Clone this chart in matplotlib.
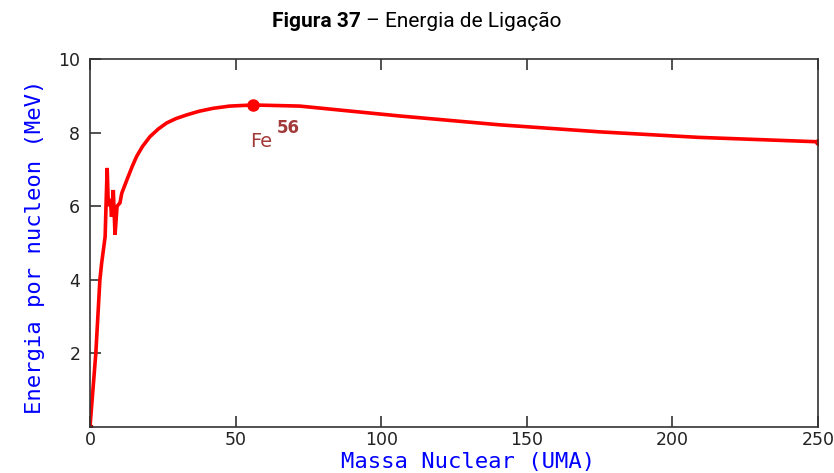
import numpy as np
import matplotlib.pyplot as plt

# binding energy per nucleon vs mass number
massa = [0, 1, 2, 3.4, 4.0, 5.2, 5.5, 5.9, 6.3, 7.0, 7.4, 8.0, 8.6, 9.3, 10.3,
         10.9, 12.6, 14.5, 16, 18, 20.6, 23.5, 26.3, 29.5, 33.2, 37.5, 42.3,
         48, 56, 72, 106.5, 140.8, 175, 209, 250]
energia = [0.0, 1.0, 2.0, 4.0, 4.45, 5.17, 6.0, 7.04, 6.0, 6.2, 5.71, 6.44,
           5.22, 6.0, 6.09, 6.35, 6.7, 7.08, 7.35, 7.62, 7.89, 8.1, 8.26,
           8.38, 8.48, 8.58, 8.66, 8.72, 8.75, 8.72, 8.45, 8.21, 8.02, 7.87,
           7.75]

fe_massa = 56
fe_energia = 8.75

xticks = [0, 50, 100, 150, 200, 250]
yticks = [2, 4, 6, 8, 10]

fig = plt.figure(figsize=(8.34, 4.73), dpi=100)
ax = fig.add_axes([0.1079, 0.0973, 0.8729, 0.778])

ax.plot(massa, energia, color="#ff0000", lw=2.6, solid_joinstyle="miter")
ax.plot([fe_massa], [fe_energia], "o", color="#ff0000", ms=8)
ax.plot([massa[-1]], [energia[-1]], "o", color="#ff0000", ms=4)
ax.plot([0], [0], "s", color="#b00000", ms=3)

ax.text(58.7, 7.6, "Fe", color="#a33a3a", fontsize=14, ha="center",
        va="baseline", family="DejaVu Sans")
ax.text(68, 8.0, "56", color="#a33a3a", fontsize=12, ha="center",
        va="baseline", family="DejaVu Sans", fontweight="semibold")

ax.set_xlim(0, 250)
ax.set_ylim(0, 10)
ax.set_xticks(xticks)
ax.set_yticks(yticks)
ax.tick_params(direction="in", length=8, width=1.2, colors="#333333",
               labelcolor="#222222", labelsize=12.5, top=True)
ax.tick_params(axis="y", pad=7)
ax.tick_params(axis="x", pad=3)
for s in ax.spines.values():
    s.set_color("#333333")
    s.set_linewidth(1.2)

ax.set_xlabel("Massa Nuclear (UMA)", family="DejaVu Sans Mono", color="#0000ff",
              fontsize=16, va="center")
ax.xaxis.set_label_coords(0.52, -0.095)
ax.set_ylabel("Energia por nucleon (MeV)", family="DejaVu Sans Mono",
              color="#0000ff", fontsize=16, va="center")
ax.yaxis.set_label_coords(-0.076, 0.49)

# title: bold figure number followed by normal text
r = fig.canvas.get_renderer()
t1 = fig.text(0, 0.955, "Figura 37", family="Roboto", fontweight="bold",
              fontsize=15, va="center")
t2 = fig.text(0, 0.955, " \u2013 Energia de Ligação", family="Roboto",
              fontsize=15, va="center")
w1 = t1.get_window_extent(r).width / fig.bbox.width
w2 = t2.get_window_extent(r).width / fig.bbox.width
x0 = 0.5 - (w1 + w2) / 2
t1.set_x(x0)
t2.set_x(x0 + w1)

fig.savefig("out.png", dpi=100)
